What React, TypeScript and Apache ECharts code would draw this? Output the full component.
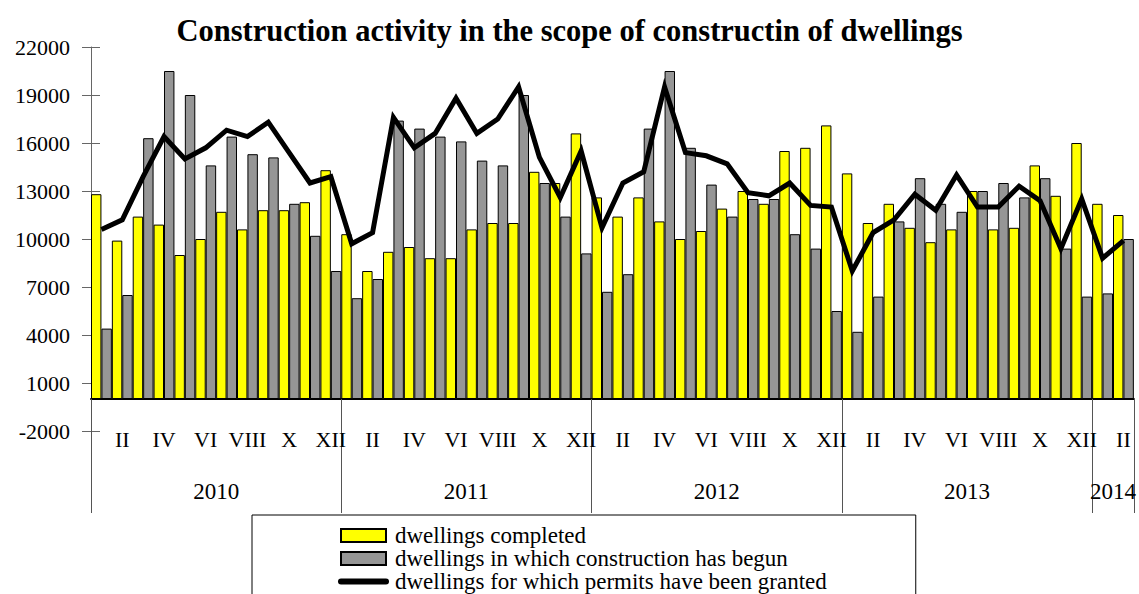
import React, { useEffect, useRef } from "react";
import * as echarts from "echarts";

const TITLE = "Construction activity in the scope of constructin of dwellings";
const FONT = "'Liberation Serif', 'Times New Roman', serif";

const YEARS = ["2010", "2011", "2012", "2013", "2014"];
const MONTHS_PER_YEAR = [12, 12, 12, 12, 2];
const MONTH_LABELS = ["I", "II", "III", "IV", "V", "VI", "VII", "VIII", "IX", "X", "XI", "XII"];

const Y_MIN = -2000;
const Y_MAX = 22000;
const Y_INTERVAL = 3000;

const NAME_COMPLETED = "dwellings completed";
const NAME_STARTED = "dwellings in which construction has begun";
const NAME_PERMITS = "dwellings for which permits have been granted";

const completed = [
  12800, 9900, 11400, 10900, 9000, 10000, 11700, 10600, 11800, 11800, 12300, 14300,
  10300, 8000, 9200, 9500, 8800, 8800, 10600, 11000, 11000, 14200, 13500, 16600,
  12600, 11400, 12600, 11100, 10000, 10500, 11900, 13000, 12200, 15500, 15700, 17100,
  14100, 11000, 12200, 10700, 9800, 10600, 13000, 10600, 10700, 14600, 12700, 16000,
  12200, 11500,
];

const started = [
  4400, 6500, 16300, 20500, 19000, 14600, 16400, 15300, 15100, 12200, 10200, 8000,
  6300, 7500, 17400, 16900, 16400, 16100, 14900, 14600, 19000, 13500, 11400, 9100,
  6700, 7800, 16900, 20500, 15700, 13400, 11400, 12500, 12500, 10300, 9400, 5500,
  4200, 6400, 11100, 13800, 12200, 11700, 13000, 13500, 12600, 13800, 9400, 6400,
  6600, 10000,
];

const permits = [
  10600, 11200, 13900, 16400, 15000, 15700, 16800, 16400, 17300, 15400, 13500, 13900,
  9700, 10400, 17600, 15700, 16600, 18800, 16600, 17500, 19500, 15100, 12600, 15500,
  10700, 13500, 14200, 19500, 15400, 15200, 14700, 12900, 12700, 13500, 12100, 12000,
  8000, 10400, 11200, 12800, 11800, 14000, 12000, 12000, 13300, 12400, 9400, 12500,
  8800, 9900,
];

export default function App() {
  const ref = useRef<HTMLDivElement>(null);

  useEffect(() => {
    document.body.style.margin = "0";
    if (!ref.current) return;
    const chart = echarts.init(ref.current, null, { renderer: "svg" });

    const categories: string[] = [];
    const boundaries: number[] = [0];
    const centers: number[] = [];
    let acc = 0;
    YEARS.forEach((y, yi) => {
      const n = MONTHS_PER_YEAR[yi];
      for (let m = 0; m < n; m++) categories.push(MONTH_LABELS[m]);
      centers.push(acc + n / 2);
      acc += n;
      boundaries.push(acc);
    });
    const total = acc;

    const gridTop = 47;
    const gridBottom = 163;
    const gridHeight = 594 - gridTop - gridBottom;
    const zeroOffset = -(gridHeight * (0 - Y_MIN)) / (Y_MAX - Y_MIN);

    chart.setOption({
      animation: false,
      textStyle: { fontFamily: FONT },
      title: {
        text: TITLE,
        left: "center",
        top: 10,
        textStyle: { fontFamily: FONT, fontSize: 30.5, fontWeight: "bold", color: "#000" },
      },
      grid: { left: 91, right: 3, top: gridTop, bottom: gridBottom },
      legend: {
        type: "plain",
        orient: "vertical",
        left: 252,
        top: 515,
        height: 400,
        padding: [9, 89, 14, 86],
        borderColor: "#000",
        borderWidth: 1,
        itemWidth: 45,
        itemHeight: 13,
        itemGap: 0,
        textStyle: {
          fontFamily: FONT,
          fontSize: 23,
          lineHeight: 22,
          color: "#000",
          padding: [0, 0, 0, 4],
        },
        data: [
          { name: NAME_COMPLETED, icon: "rect" },
          { name: NAME_STARTED, icon: "rect" },
          {
            name: NAME_PERMITS,
            itemStyle: { color: "rgba(0,0,0,0)", borderColor: "rgba(0,0,0,0)", borderWidth: 0, opacity: 0 },
            lineStyle: { color: "#000", width: 6, cap: "round" },
          },
        ],
      },
      xAxis: [
        {
          type: "category",
          data: categories,
          position: "bottom",
          boundaryGap: true,
          axisLine: { show: true, onZero: true, lineStyle: { color: "#000", width: 2 } },
          axisTick: { show: false },
          splitLine: { show: false },
          axisLabel: {
            interval: (i: number) => i % 2 === 1,
            margin: -3,
            fontSize: 22,
            fontFamily: FONT,
            color: "#000",
          },
        },
        {
          type: "value",
          min: 0,
          max: total,
          position: "bottom",
          offset: zeroOffset,
          axisLine: { show: false, onZero: false },
          splitLine: { show: false },
          axisTick: {
            show: true,
            inside: false,
            length: 114,
            customValues: boundaries,
            lineStyle: { color: "#555", width: 1 },
          },
          axisLabel: {
            customValues: centers,
            formatter: (v: number) => {
              const idx = centers.findIndex((c) => Math.abs(c - v) < 1e-6);
              return idx >= 0 ? YEARS[idx] : "";
            },
            margin: 81,
            fontSize: 23,
            fontFamily: FONT,
            color: "#000",
          },
        },
      ],
      yAxis: [
        {
          type: "value",
          min: Y_MIN,
          max: Y_MAX,
          interval: Y_INTERVAL,
          position: "left",
          axisLine: { show: true, onZero: false, lineStyle: { color: "#666", width: 1 } },
          axisTick: { show: true, inside: false, length: 9, lineStyle: { color: "#666" } },
          axisLabel: {
            margin: 21,
            fontSize: 22,
            fontFamily: FONT,
            color: "#000",
            formatter: (v: number) => String(v),
          },
          splitLine: { show: false },
        },
        {
          type: "value",
          min: Y_MIN,
          max: Y_MAX,
          interval: Y_INTERVAL,
          position: "left",
          axisLine: { show: false, onZero: false },
          axisTick: { show: true, inside: true, length: 9, lineStyle: { color: "#666" } },
          axisLabel: { show: false },
          splitLine: { show: false },
        },
      ],
      series: [
        {
          type: "bar",
          name: NAME_COMPLETED,
          data: completed,
          xAxisIndex: 0,
          yAxisIndex: 0,
          barGap: "0%",
          barCategoryGap: "0%",
          itemStyle: { color: "#FFFF00", borderColor: "#000", borderWidth: 1 },
        },
        {
          type: "bar",
          name: NAME_STARTED,
          data: started,
          xAxisIndex: 0,
          yAxisIndex: 0,
          barGap: "0%",
          barCategoryGap: "0%",
          itemStyle: { color: "#969696", borderColor: "#000", borderWidth: 1 },
        },
        {
          type: "line",
          name: NAME_PERMITS,
          data: permits,
          xAxisIndex: 0,
          yAxisIndex: 0,
          symbol: "none",
          z: 5,
          itemStyle: { color: "#000" },
          lineStyle: { color: "#000", width: 5, join: "miter" },
        },
      ],
    });

    return () => chart.dispose();
  }, []);

  return (
    <div
      ref={ref}
      style={{ position: "absolute", left: 0, top: 0, width: 1139, height: 594 }}
    />
  );
}
